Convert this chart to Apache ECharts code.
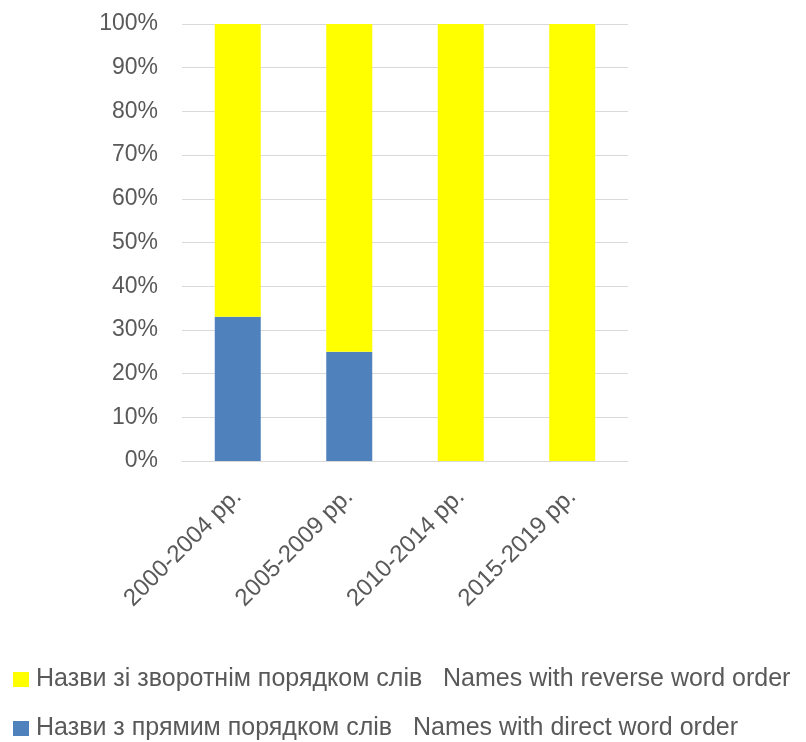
<!DOCTYPE html>
<html>
<head>
<meta charset="utf-8">
<script src="https://cdn.jsdelivr.net/npm/echarts@6/dist/echarts.min.js"></script>
<style>
  html, body { margin: 0; padding: 0; background: #fff; }
  #chart { width: 806px; height: 742px; }
</style>
</head>
<body>
<div id="chart"></div>
<script>
// Periods on the category axis
const periods = ['2000-2004 рр.', '2005-2009 рр.', '2010-2014 рр.', '2015-2019 рр.'];
// Shares of titles (percent) by word order
const directOrder = [33, 25, 0, 0];
const reverseOrder = [67, 75, 100, 100];
const seriesNames = [
  'Назви з прямим порядком слів   Names with direct word order',
  'Назви зі зворотнім порядком слів   Names with reverse word order'
];
const yTicks = [0, 10, 20, 30, 40, 50, 60, 70, 80, 90, 100];

const FONT = '"Liberation Sans", "DejaVu Sans", sans-serif';
const TEXT_COLOR = '#595959';
const chart = echarts.init(document.getElementById('chart'), null, { renderer: 'canvas' });

const legendBase = {
  orient: 'horizontal',
  left: 13,
  padding: 0,
  itemWidth: 16,
  itemHeight: 15,
  itemGap: 6,
  icon: 'rect',
  textStyle: { fontFamily: FONT, fontSize: 25, color: TEXT_COLOR, padding: [0, 0, 0, 2] }
};

chart.setOption({
  animation: false,
  backgroundColor: '#ffffff',
  grid: { left: 182, right: 178, top: 24, bottom: 281, containLabel: false },
  legend: [
    Object.assign({}, legendBase, { top: 667, data: [seriesNames[1]] }),
    Object.assign({}, legendBase, { top: 716, data: [seriesNames[0]] })
  ],
  xAxis: {
    type: 'category',
    data: periods,
    axisLine: { show: true, lineStyle: { color: '#d9d9d9', width: 1 } },
    axisTick: { show: false },
    axisLabel: {
      rotate: 45,
      margin: 32,
      interval: 0,
      fontFamily: FONT,
      fontSize: 24,
      color: TEXT_COLOR
    }
  },
  yAxis: {
    type: 'value',
    min: 0,
    max: 100,
    interval: 10,
    axisLine: { show: false },
    axisTick: { show: false },
    splitLine: { lineStyle: { color: '#d9d9d9', width: 1 } },
    axisLabel: {
      margin: 24,
      fontFamily: FONT,
      fontSize: 23,
      color: TEXT_COLOR,
      formatter: v => (yTicks.includes(v) ? v + '%' : '')
    }
  },
  series: [
    {
      name: seriesNames[0],
      type: 'bar',
      stack: 'total',
      barWidth: 46,
      data: directOrder,
      itemStyle: { color: '#4f81bd' }
    },
    {
      name: seriesNames[1],
      type: 'bar',
      stack: 'total',
      barWidth: 46,
      data: reverseOrder,
      itemStyle: { color: '#ffff00' }
    }
  ]
});
</script>
</body>
</html>
